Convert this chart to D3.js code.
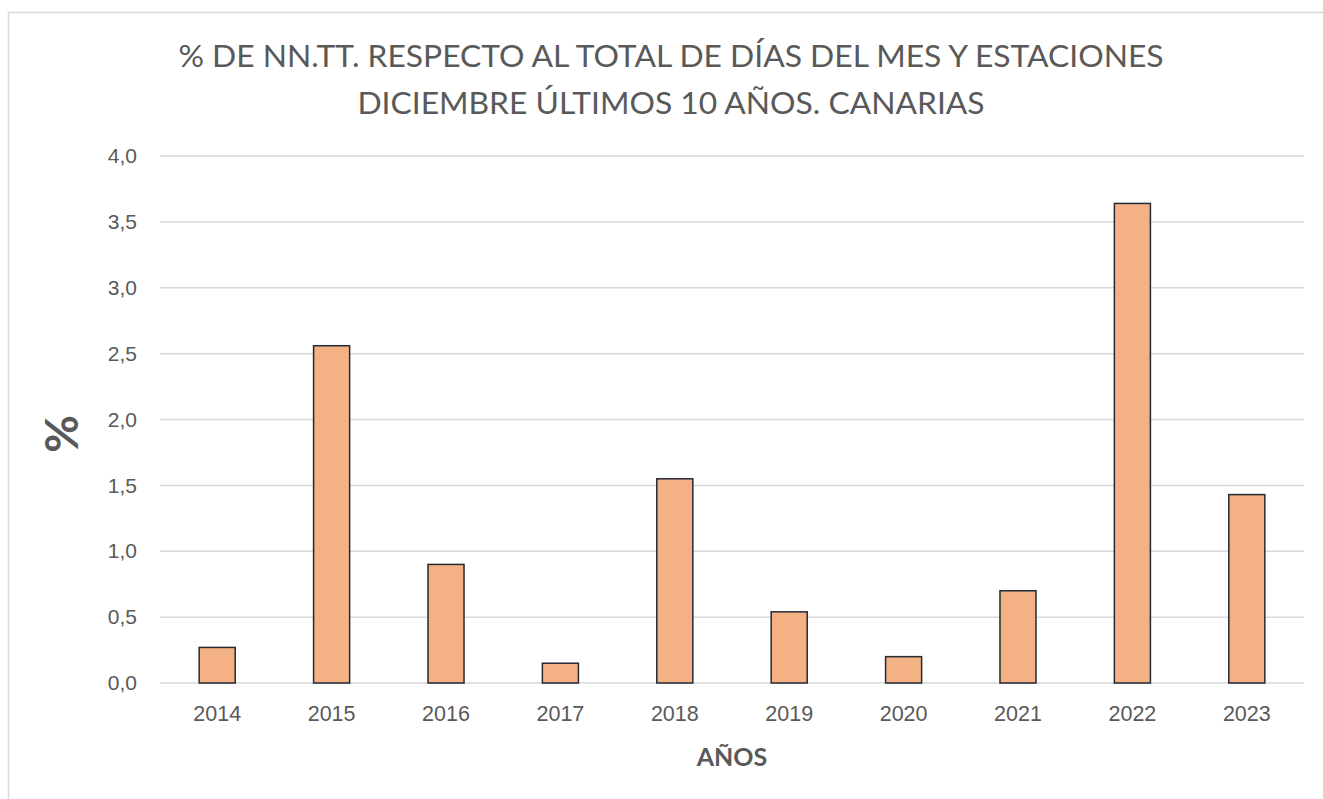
<!DOCTYPE html>
<html lang="es">
  <head>
    <meta charset="UTF-8" />
    <title>% de NN.TT. Diciembre</title>
    <script src="https://cdn.jsdelivr.net/npm/d3@7"></script>
    <style>
      body { margin: 0; background: #fff; }
      svg { display: block; font-family: Lato, "Open Sans", "Noto Sans", sans-serif; }
    </style>
  </head>
  <body>
    <div id="chart"></div>
    <script>
      // data
      const years = ["2014", "2015", "2016", "2017", "2018", "2019", "2020", "2021", "2022", "2023"];
      const values = [0.27, 2.56, 0.9, 0.15, 1.55, 0.54, 0.2, 0.7, 3.64, 1.43];
      const yTicks = [0, 0.5, 1, 1.5, 2, 2.5, 3, 3.5, 4];
      const titleLines = [
        "% DE NN.TT. RESPECTO AL TOTAL DE DÍAS DEL MES Y ESTACIONES",
        "DICIEMBRE ÚLTIMOS 10 AÑOS. CANARIAS",
      ];

      let W = 1323, H = 799;
      let margin = { top: 156, right: 19, bottom: 116, left: 160 };
      let width = W - margin.left - margin.right;
      let height = H - margin.top - margin.bottom;

      let svg = d3.select("#chart").append("svg")
        .attr("width", W)
        .attr("height", H);

      // chart frame
      svg.append("rect")
        .attr("x", 8.5).attr("y", 12.5)
        .attr("width", W + 20).attr("height", H + 20)
        .attr("fill", "none")
        .attr("stroke", "#d9d9d9")
        .attr("stroke-width", 1.5);

      let g = svg.append("g")
        .attr("transform", `translate(${margin.left},${margin.top})`);

      let x = d3.scaleBand().domain(years).range([0, width]).paddingInner(0.685).paddingOuter(0.3425);
      let y = d3.scaleLinear().domain([0, 4]).range([height, 0]);

      // gridlines
      g.append("g")
        .selectAll("line")
        .data(yTicks)
        .join("line")
        .attr("x1", 0).attr("x2", width)
        .attr("y1", d => y(d)).attr("y2", d => y(d))
        .attr("stroke", "#d9d9d9")
        .attr("stroke-width", 1.5);

      // y axis labels
      let fmt = d => d3.format(".1f")(d).replace(".", ",");
      let yAxis = g.append("g")
        .call(d3.axisLeft(y).tickValues(yTicks).tickFormat(fmt).tickSize(0).tickPadding(23));
      yAxis.select(".domain").remove();
      yAxis.selectAll("text")
        .attr("fill", "#595959")
        .style("font-size", "21px")
        .style("font-family", "inherit");

      // bars
      g.append("g")
        .selectAll("rect")
        .data(values)
        .join("rect")
        .attr("x", (d, i) => x(years[i]))
        .attr("y", d => y(d))
        .attr("width", x.bandwidth())
        .attr("height", d => height - y(d))
        .attr("fill", "#f4b183")
        .attr("stroke", "#222a35")
        .attr("stroke-width", 1.5);

      // x axis labels
      let xAxis = g.append("g")
        .attr("transform", `translate(0,${height})`)
        .call(d3.axisBottom(x).tickSize(0).tickPadding(23));
      xAxis.select(".domain").remove();
      xAxis.selectAll("text")
        .attr("fill", "#595959")
        .style("font-size", "21.5px")
        .style("font-family", "inherit");

      // title
      svg.append("g")
        .selectAll("text")
        .data(titleLines)
        .join("text")
        .attr("x", 671)
        .attr("y", (d, i) => 67 + i * 47)
        .attr("text-anchor", "middle")
        .attr("fill", "#595959")
        .style("font-size", "31.8px")
        .text(d => d);

      // axis titles
      svg.append("text")
        .attr("x", 732).attr("y", 766)
        .attr("text-anchor", "middle")
        .attr("fill", "#595959")
        .style("font-size", "25px")
        .style("font-weight", "bold")
        .text("AÑOS");

      svg.append("text")
        .attr("transform", "translate(78,434) rotate(-90)")
        .attr("text-anchor", "middle")
        .attr("fill", "#595959")
        .style("font-size", "46px")
        .style("font-weight", "bold")
        .text("%");
    </script>
  </body>
</html>
